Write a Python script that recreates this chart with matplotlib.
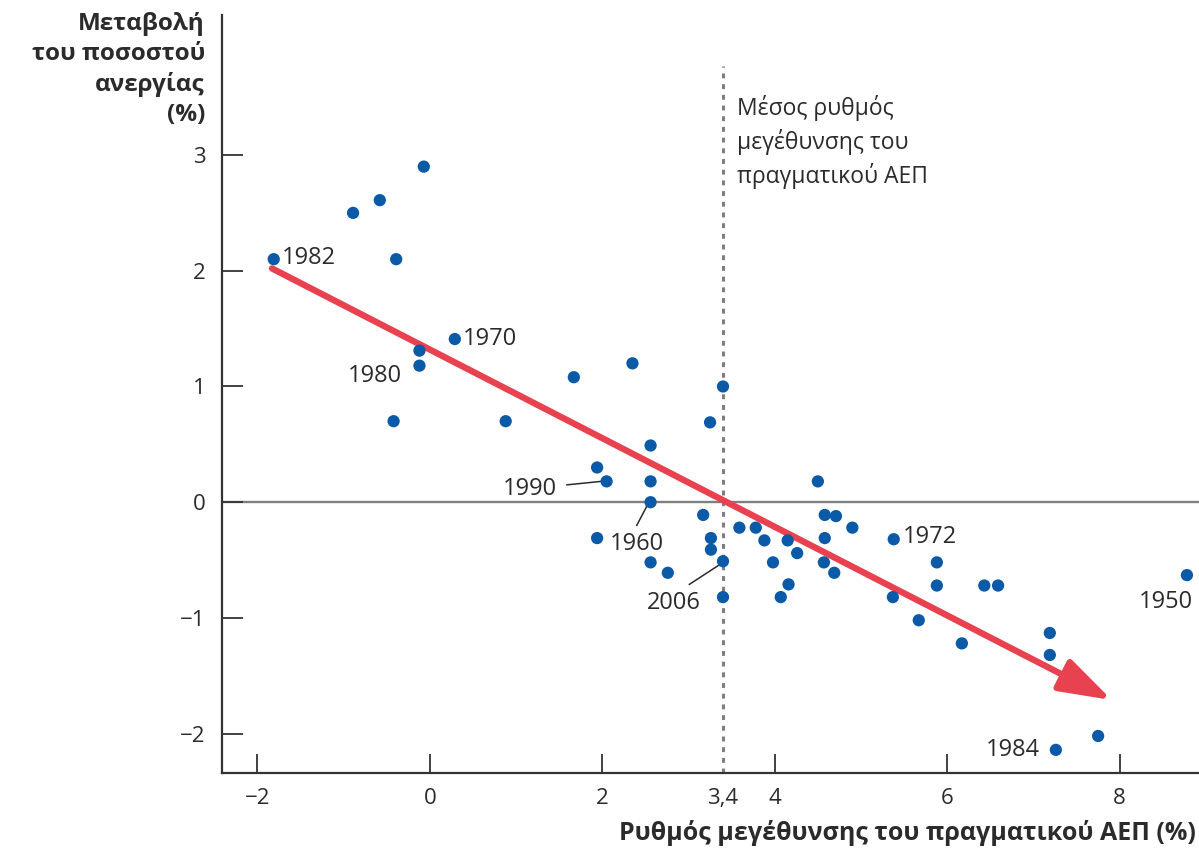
import matplotlib
matplotlib.use("Agg")
import matplotlib.pyplot as plt

plt.rcParams['font.family'] = ['Open Sans', 'DejaVu Sans']

# growth of real GDP (%) and change of unemployment rate (%), one point per year
gdp_growth = [-1.81, -0.89, -0.58, -0.07, -0.39, -0.12, -0.12, 0.29, -0.42, 0.88,
              1.67, 2.35, 1.94, 2.05, 2.56, 2.56, 2.56, 1.94, 2.56, 2.76,
              3.25, 3.40, 3.17, 3.26, 3.26, 3.40, 3.40, 3.59, 3.78, 3.88,
              3.98, 4.07, 4.16, 4.15, 4.26, 4.50, 4.58, 4.71, 4.90, 4.58,
              4.57, 4.69, 5.38, 5.37, 5.67, 5.88, 5.88, 6.17, 6.43, 6.59,
              7.19, 7.19, 7.75, 7.26, 8.78]
unemp_change = [2.10, 2.50, 2.61, 2.90, 2.10, 1.31, 1.18, 1.41, 0.70, 0.70,
                1.08, 1.20, 0.30, 0.18, 0.49, 0.18, 0.00, -0.31, -0.52, -0.61,
                0.69, 1.00, -0.11, -0.31, -0.41, -0.51, -0.82, -0.22, -0.22, -0.33,
                -0.52, -0.82, -0.71, -0.33, -0.44, 0.18, -0.11, -0.12, -0.22, -0.31,
                -0.52, -0.61, -0.32, -0.82, -1.02, -0.52, -0.72, -1.22, -0.72, -0.72,
                -1.13, -1.32, -2.02, -2.14, -0.63]

# labelled years: index of the point -> year
year_labels = {0: "1982", 6: "1980", 7: "1970", 13: "1990", 16: "1960",
               25: "2006", 42: "1972", 53: "1984", 54: "1950"}

avg_growth = 3.4
trend_start = (-1.83, 2.02)
trend_end = (7.91, -1.71)

x_ticks = [-2, 0, 2, 3.4, 4, 6, 8]
x_tick_labels = ["\u22122", "0", "2", "3,4", "4", "6", "8"]
y_ticks = [-2, -1, 0, 1, 2, 3]
y_tick_labels = ["\u22122", "\u22121", "0", "1", "2", "3"]

BLUE = "#0b5aa8"
RED = "#e8414f"
GREY = "#7f7f7f"
INK = "#2b2b2b"

fig = plt.figure(figsize=(11.99, 8.49), dpi=100)
ax = fig.add_axes([222 / 1199, 1 - 773 / 849, 977 / 1199, 758 / 849])
ax.set_xlim(-2.41, 8.92)
ax.set_ylim(-2.34, 4.21)

ax.axhline(0, color=GREY, lw=1.7, zorder=1)
ax.plot([avg_growth, avg_growth], [-2.34, 3.77], color=GREY, lw=2.2,
        linestyle=(0, (1.6, 1.9)), zorder=1)

ax.scatter(gdp_growth, unemp_change, s=78, color=BLUE, edgecolors='none', zorder=3)

ax.annotate("", xy=trend_end, xytext=trend_start,
            arrowprops=dict(arrowstyle='-|>,head_length=0.8,head_width=0.26',
                            mutation_scale=40, lw=4.6, color=RED,
                            shrinkA=0, shrinkB=0), zorder=2)

# year labels: (dx, dy) offset in data units, alignment, optional leader line
label_layout = {
    "1982": ((0.09, 0.01), 'left', False),
    "1980": ((-0.20, -0.09), 'right', False),
    "1970": ((0.09, 0.0), 'left', False),
    "1990": ((-0.58, -0.07), 'right', True),
    "1960": ((-0.16, -0.36), 'center', True),
    "2006": ((-0.57, -0.36), 'center', True),
    "1972": ((0.10, 0.02), 'left', False),
    "1984": ((-0.18, 0.0), 'right', False),
    "1950": ((-0.24, -0.23), 'center', False),
}
for i, year in year_labels.items():
    (dx, dy), ha, leader = label_layout[year]
    px, py = gdp_growth[i], unemp_change[i]
    ax.text(px + dx, py + dy, year, ha=ha, va='center', fontsize=17, color=INK)
    if leader:
        if ha == 'right':
            lx, ly = px + dx + 0.12, py + dy + 0.04
            ex, ey = px - 0.06, py
        else:
            lx, ly = px + dx + (0.18 if year == "2006" else 0.0), py + dy + 0.16
            ex, ey = px - 0.04, py - 0.03
        ax.plot([lx, ex], [ly, ey], color=INK, lw=1.1, zorder=2)

ax.text(avg_growth + 0.16, 3.11, "Μέσος ρυθμός\nμεγέθυνσης του\nπραγματικού ΑΕΠ",
        ha='left', va='center', fontsize=16.5, color=INK, linespacing=1.4)

for side in ['top', 'right']:
    ax.spines[side].set_visible(False)
for side in ['left', 'bottom']:
    ax.spines[side].set_color("#333333")
    ax.spines[side].set_linewidth(1.6)

ax.set_xticks(x_ticks)
ax.set_xticklabels(x_tick_labels, fontsize=16, color=INK)
ax.set_yticks(y_ticks)
ax.set_yticklabels(y_tick_labels, fontsize=16, color=INK)
ax.tick_params(axis='x', direction='in', length=14, width=1.3, color="#333333", pad=11)
ax.tick_params(axis='y', direction='in', length=15, width=1.3, color="#333333", pad=12)
ax.xaxis.get_major_ticks()[3].tick1line.set_visible(False)

fig.text(205 / 1199, 1 - 12 / 849, "Μεταβολή\nτου ποσοστού\nανεργίας\n(%)",
         ha='right', va='top', fontsize=17.5, fontweight='bold', color=INK, linespacing=1.32)
fig.text(1196 / 1199, 1 - 833 / 849, "Ρυθμός μεγέθυνσης του πραγματικού ΑΕΠ (%)",
         ha='right', va='center', fontsize=18, fontweight='bold', color=INK)

fig.savefig("out.png", dpi=100)
